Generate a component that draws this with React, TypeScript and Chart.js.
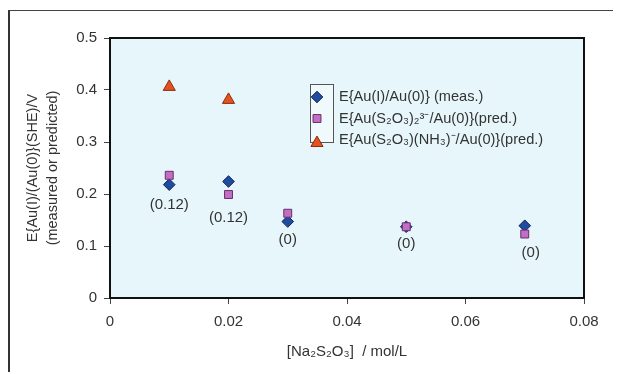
import React, { useEffect, useRef } from "react";
import { Chart, registerables } from "chart.js";
import { drawPoint } from "chart.js/helpers";

Chart.register(...registerables);

// ---- data ----
const xValues = [0.01, 0.02, 0.03, 0.05, 0.07];
const measured = [0.218, 0.224, 0.147, 0.137, 0.139];
const predS2O3 = [0.236, 0.199, 0.163, 0.137, 0.123];
const xTriangle = [0.01, 0.02];
const predNH3 = [0.406, 0.381];
const pointLabels = ["(0.12)", "(0.12)", "(0)", "(0)", "(0)"];
const seriesNames = [
  "E{Au(I)/Au(0)} (meas.)",
  "E{Au(S₂O₃)₂³⁻/Au(0)}(pred.)",
  "E{Au(S₂O₃)(NH₃)⁻/Au(0)}(pred.)",
];
const xTicks = [0, 0.02, 0.04, 0.06, 0.08];
const xTickLabels = ["0", "0.02", "0.04", "0.06", "0.08"];
const yTicks = [0, 0.1, 0.2, 0.3, 0.4, 0.5];
const yTickLabels = ["0", "0.1", "0.2", "0.3", "0.4", "0.5"];
const xTitle = "[Na₂S₂O₃]  / mol/L";
const yTitle = ["E{Au(I)/(Au(0)}(SHE)/V", "(measured or predicted)"];

// ---- styles ----
const FONT = "'Liberation Sans', Arial, Helvetica, sans-serif";
const TEXT = "#333333";
const styles = [
  { pointStyle: "rectRot", radius: 5.8, backgroundColor: "#1f4c9e", borderColor: "#0f2458" },
  { pointStyle: "rect", radius: 5.6, backgroundColor: "#c26ec4", borderColor: "#6a2d6c" },
  { pointStyle: "triangle", radius: 7, backgroundColor: "#e4521e", borderColor: "#8a2c10" },
];
const labelOffsets = [
  [0, 20],
  [0, 36],
  [0, 18],
  [0, 17],
  [6, 27],
];

const bgPlugin = {
  id: "bgPlugin",
  beforeDraw(chart: any) {
    const { ctx, chartArea: a } = chart;
    ctx.save();
    ctx.fillStyle = "#e6f6fa";
    ctx.fillRect(a.left, a.top, a.right - a.left, a.bottom - a.top);
    ctx.restore();
  },
  afterDraw(chart: any) {
    const { ctx, chartArea: a } = chart;
    ctx.save();
    ctx.strokeStyle = "#111111";
    ctx.lineWidth = 2;
    ctx.strokeRect(a.left, a.top, a.right - a.left, a.bottom - a.top);
    ctx.restore();
  },
};

const labelPlugin = {
  id: "labelPlugin",
  afterDatasetsDraw(chart: any) {
    const { ctx } = chart;
    const meta = chart.getDatasetMeta(0);
    ctx.save();
    ctx.font = `15px ${FONT}`;
    ctx.fillStyle = TEXT;
    ctx.textAlign = "center";
    ctx.textBaseline = "middle";
    meta.data.forEach((pt: any, i: number) => {
      const [dx, dy] = labelOffsets[i];
      ctx.fillText(pointLabels[i], pt.x + dx, pt.y + dy);
    });
    ctx.restore();
  },
};

const legendPlugin = {
  id: "legendPlugin",
  afterDatasetsDraw(chart: any) {
    const { ctx } = chart;
    const boxX = 300, boxY = 73, boxW = 23, boxH = 58;
    ctx.save();
    ctx.fillStyle = "#f0fafc";
    ctx.fillRect(boxX, boxY, boxW, boxH);
    ctx.strokeStyle = "#555555";
    ctx.lineWidth = 1;
    ctx.strokeRect(boxX + 0.5, boxY + 0.5, boxW, boxH);
    const rows = [86, 107.5, 129];
    ctx.font = `14.6px ${FONT}`;
    ctx.textAlign = "left";
    ctx.textBaseline = "middle";
    seriesNames.forEach((name, i) => {
      const s = styles[i];
      ctx.fillStyle = s.backgroundColor;
      ctx.strokeStyle = s.borderColor;
      ctx.lineWidth = 1;
      drawPoint(
        ctx,
        { pointStyle: s.pointStyle, radius: s.radius, rotation: 0, borderWidth: 1 } as any,
        307,
        rows[i] + (i === 2 ? 3 : 0)
      );
      ctx.fillStyle = TEXT;
      ctx.fillText(name, 329, rows[i]);
    });
    ctx.restore();
  },
};

export default function App() {
  const ref = useRef<HTMLCanvasElement>(null);
  useEffect(() => {
    if (!ref.current) return;
    const tickFont = { family: FONT, size: 15 };
    const chart = new Chart(ref.current, {
      type: "scatter",
      data: {
        datasets: [
          {
            label: seriesNames[0],
            data: xValues.map((x, i) => ({ x, y: measured[i] })),
            pointStyle: styles[0].pointStyle as any,
            pointRadius: styles[0].radius,
            backgroundColor: styles[0].backgroundColor,
            borderColor: styles[0].borderColor,
            borderWidth: 1,
            order: 1,
          },
          {
            label: seriesNames[1],
            data: xValues.map((x, i) => ({ x, y: predS2O3[i] })),
            pointStyle: styles[1].pointStyle as any,
            pointRadius: styles[1].radius,
            backgroundColor: styles[1].backgroundColor,
            borderColor: styles[1].borderColor,
            borderWidth: 1,
            order: 0,
          },
          {
            label: seriesNames[2],
            data: xTriangle.map((x, i) => ({ x, y: predNH3[i] })),
            pointStyle: styles[2].pointStyle as any,
            pointRadius: styles[2].radius,
            backgroundColor: styles[2].backgroundColor,
            borderColor: styles[2].borderColor,
            borderWidth: 1,
            order: 2,
          },
        ],
      },
      options: {
        animation: false,
        responsive: false,
        events: [],
        layout: { padding: { top: 27, right: 37, left: 0, bottom: 0 } },
        plugins: {
          legend: { display: false },
          tooltip: { enabled: false },
        },
        scales: {
          x: {
            type: "linear",
            min: 0,
            max: 0.08,
            afterBuildTicks: (s: any) => {
              s.ticks = xTicks.map((v) => ({ value: v }));
            },
            afterFit: (s: any) => {
              s.height = 76;
            },
            ticks: {
              callback: (_v: any, i: number) => xTickLabels[i],
              font: tickFont,
              color: TEXT,
              padding: 9,
              maxRotation: 0,
              autoSkip: false,
            },
            grid: {
              display: true,
              drawOnChartArea: false,
              drawTicks: true,
              tickLength: 6,
              color: "#444444",
            },
            border: { display: false },
            title: {
              display: true,
              text: xTitle,
              font: { family: FONT, size: 15 },
              color: TEXT,
              padding: { top: 0, bottom: 13 },
            },
          },
          y: {
            type: "linear",
            min: 0,
            max: 0.5,
            afterBuildTicks: (s: any) => {
              s.ticks = yTicks.map((v) => ({ value: v }));
            },
            afterFit: (s: any) => {
              s.width = 100;
            },
            ticks: {
              callback: (_v: any, i: number) => yTickLabels[i],
              font: tickFont,
              color: TEXT,
              padding: 7,
              autoSkip: false,
            },
            grid: {
              display: true,
              drawOnChartArea: false,
              drawTicks: true,
              tickLength: 6,
              color: "#444444",
            },
            border: { display: false },
            title: {
              display: true,
              text: yTitle,
              font: { family: FONT, size: 14.5, lineHeight: 20 / 14.5 },
              color: TEXT,
              padding: { top: 13, bottom: 0 },
            },
          },
        },
      },
      plugins: [bgPlugin, labelPlugin, legendPlugin],
    });
    return () => chart.destroy();
  }, []);

  return (
    <div
      style={{
        position: "relative",
        top: 2,
        width: 611,
        height: 363,
        borderTop: "1px solid #444",
        borderLeft: "2px solid #333",
      }}
    >
      <canvas ref={ref} width={611} height={363} style={{ display: "block" }} />
    </div>
  );
}
